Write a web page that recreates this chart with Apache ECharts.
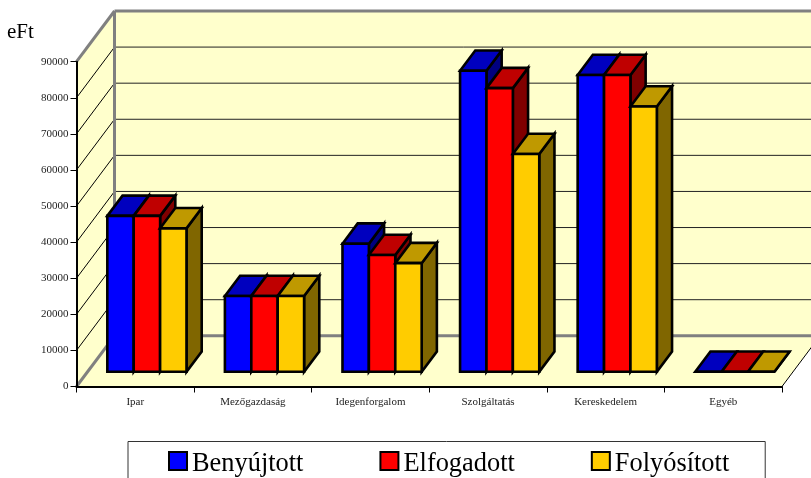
<!DOCTYPE html>
<html><head><meta charset="utf-8">
<style>html,body{margin:0;padding:0;background:#fff}#c{width:811px;height:478px}</style>
<script src="https://cdn.jsdelivr.net/npm/echarts@6/dist/echarts.min.js"></script>
</head><body><div id="c"></div>
<script>
const categories = ['Ipar','Mezőgazdaság','Idegenforgalom','Szolgáltatás','Kereskedelem','Egyéb'];
const benyujtott = [43200, 21000, 35500, 83400, 82250, 0];
const elfogadott = [43200, 21000, 32350, 78600, 82250, 0];
const folyositott = [39750, 21000, 30100, 60350, 73500, 0];
const yTicks = [0,10000,20000,30000,40000,50000,60000,70000,80000,90000];

const FONT = '"Liberation Serif","Times New Roman",serif';
const WALL = '#FFFFCC', EDGE = '#808080';
const DX = 38, DY = -50.7;          // full depth of the floor
const F1 = 0.29, F2 = 0.69;         // bar front/back as fraction of depth
const BARW = 26.4 / 117.6;          // bar width as fraction of category

function wall(params, api) {
  const cs = params.coordSys;
  const l = cs.x, r = cs.x + cs.width, y0 = api.coord([0, 0])[1];
  const yt = api.coord([0, yTicks[yTicks.length - 1]])[1];
  const kids = [];
  const poly = (pts, fill) => ({type:'polygon', shape:{points:pts}, style:{fill, stroke:null}, silent:true});
  const line = (a, b, stroke, w) => ({type:'line', shape:{x1:a[0],y1:a[1],x2:b[0],y2:b[1]}, style:{stroke, lineWidth:w}, silent:true});
  kids.push(poly([[l+DX,yt+DY],[r+DX,yt+DY],[r+DX,y0+DY],[l+DX,y0+DY]], WALL));
  kids.push(poly([[l,yt],[l+DX,yt+DY],[l+DX,y0+DY],[l,y0]], WALL));
  kids.push(poly([[l,y0],[l+DX,y0+DY],[r+DX,y0+DY],[r,y0]], WALL));
  yTicks.forEach(v => {
    if (v === 0 || v === yTicks[yTicks.length-1]) return;
    const y = api.coord([0, v])[1];
    kids.push(line([l,y],[l+DX,y+DY],'#000',1));
    kids.push(line([l+DX,y+DY],[r+DX,y+DY],'#222',1));
  });
  kids.push(line([r,y0],[r+DX,y0+DY],'#000',1));
  kids.push(line([l,y0],[l+DX,y0+DY],EDGE,3));
  kids.push(line([l+DX,y0+DY],[r+DX,y0+DY],EDGE,3));
  kids.push(line([l,yt],[l+DX,yt+DY],EDGE,3));
  kids.push(line([l+DX,yt+DY],[r+DX,yt+DY],EDGE,3));
  kids.push(line([l+DX,yt+DY],[l+DX,y0+DY],EDGE,3));
  return {type:'group', children:kids};
}

function barRenderer(idx, front, top, side) {
  return function (params, api) {
    const cat = api.value(0), v = api.value(1);
    const c = api.coord([cat, v]), b = api.coord([cat, 0]);
    const cw = api.size([1, 0])[0], w = cw * BARW;
    const x0 = c[0] - 1.5 * w + idx * w + DX * F1 + 0.6;
    const x1 = x0 + w;
    const yT = c[1] + DY * F1, yB = b[1] + DY * F1;
    const ox = DX * (F2 - F1), oy = DY * (F2 - F1);
    const st = f => ({fill:f, stroke:'#000', lineWidth:2.6, lineJoin:'miter'});
    return {type:'group', children:[
      {type:'polygon', shape:{points:[[x1,yT],[x1+ox,yT+oy],[x1+ox,yB+oy],[x1,yB]]}, style:st(side)},
      {type:'polygon', shape:{points:[[x0,yT],[x0+ox,yT+oy],[x1+ox,yT+oy],[x1,yT]]}, style:st(top)},
      {type:'polygon', shape:{points:[[x0,yT],[x1,yT],[x1,yB],[x0,yB]]}, style:st(front)}
    ]};
  };
}

function barSeries(name, values, idx, front, top, side) {
  return {
    name, type:'custom', coordinateSystem:'cartesian2d', z:3,
    itemStyle:{color:front, borderColor:'#000', borderWidth:3},
    encode:{x:0, y:1},
    data: values.map((v, i) => [i, v]),
    renderItem: barRenderer(idx, front, top, side)
  };
}

const chart = echarts.init(document.getElementById('c'), null, {renderer:'canvas'});
chart.setOption({
  animation:false,
  backgroundColor:'#fff',
  title:{text:'eFt', left:2, top:17, textStyle:{fontFamily:FONT, fontSize:21, fontWeight:'normal', color:'#000'}},
  grid:{left:76.5, right:29, top:61.7, bottom:91.5, containLabel:false},
  xAxis:{type:'category', data:categories, boundaryGap:true,
    axisLine:{lineStyle:{color:'#000', width:2}},
    axisTick:{show:true, length:6, alignWithLabel:false, lineStyle:{color:'#000', width:1}},
    axisLabel:{fontFamily:FONT, fontSize:11, color:'#222', margin:10, interval:0},
    splitLine:{show:false}},
  yAxis:{type:'value', min:0, max:90000, interval:10000,
    axisLine:{show:true, lineStyle:{color:'#000', width:2}},
    axisTick:{show:true, length:6, lineStyle:{color:'#000', width:1}},
    axisLabel:{fontFamily:FONT, fontSize:11, color:'#222', margin:8, formatter:v => String(v)},
    splitLine:{show:false}},
  legend:{
    data:['Benyújtott','Elfogadott','Folyósított'],
    left:128, top:441.5, orient:'horizontal',
    padding:[9.5,36,14,40], itemGap:76, itemWidth:18, itemHeight:18,
    borderColor:'#333', borderWidth:1, backgroundColor:'#fff', icon:'rect',
    formatter: n => '{a|' + n + '}',
    textStyle:{fontFamily:FONT, fontSize:26.4, color:'#000',
      rich:{a:{fontFamily:FONT, fontSize:26.4, color:'#000', padding:[7,0,0,0]}}}
  },
  series:[
    {name:'fal', type:'custom', coordinateSystem:'cartesian2d', z:-1, silent:true,
      encode:{x:0,y:1}, data:[[0,0]], renderItem:wall},
    barSeries('Benyújtott', benyujtott, 0, '#0000FF', '#0000BF', '#000080'),
    barSeries('Elfogadott', elfogadott, 1, '#FF0000', '#BF0000', '#800000'),
    barSeries('Folyósított', folyositott, 2, '#FFCC00', '#BF9900', '#806600')
  ]
});
</script></body></html>
